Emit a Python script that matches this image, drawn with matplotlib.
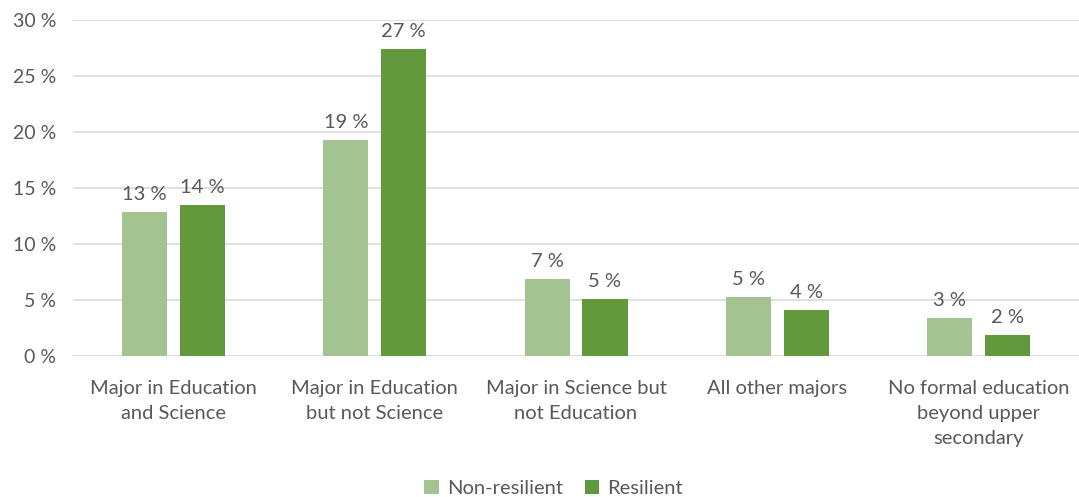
import numpy as np
import matplotlib.pyplot as plt

categories = ["Major in Education\nand Science", "Major in Education\nbut not Science",
              "Major in Science but\nnot Education", "All other majors",
              "No formal education\nbeyond upper\nsecondary"]
non_resilient = [12.9, 19.3, 6.9, 5.3, 3.4]
resilient = [13.5, 27.4, 5.1, 4.1, 1.9]
yticks = [0, 5, 10, 15, 20, 25, 30]

plt.rcParams['font.family'] = ['Lato', 'DejaVu Sans']
txt = '#595959'

fig = plt.figure(figsize=(10.79, 4.97), dpi=100)
ax = fig.add_axes([0.0677, 0.2837, 0.9323, 0.6761])

x = np.arange(len(categories))
w = 0.224
off = 0.144
b1 = ax.bar(x - off, non_resilient, w, color='#a3c490', label='Non-resilient', zorder=3)
b2 = ax.bar(x + off, resilient, w, color='#63993d', label='Resilient', zorder=3)

for bars, vals in [(b1, non_resilient), (b2, resilient)]:
    for b, v in zip(bars, vals):
        ax.text(b.get_x() + b.get_width() / 2, v + 0.8, f"{v:.0f} %", ha='center', va='bottom',
                fontsize=14.5, color=txt)

ax.set_xlim(-0.5, len(categories) - 0.5)
ax.set_ylim(0, 30)
ax.set_yticks(yticks)
ax.set_yticklabels([f"{t} %" for t in yticks], fontsize=14, color=txt)
ax.set_xticks(x)
ax.set_xticklabels(categories, fontsize=14.5, color=txt, linespacing=1.6)
ax.tick_params(length=0)
ax.tick_params(axis='x', pad=17)
ax.tick_params(axis='y', pad=12)
ax.grid(axis='y', color='#d9d9d9', linewidth=1.2, zorder=0)
for s in ax.spines.values():
    s.set_visible(False)

fig.legend(loc='lower center', bbox_to_anchor=(0.513, -0.036), ncol=2, frameon=False,
           fontsize=14.5, handlelength=0.7, handleheight=0.7, handletextpad=0.4,
           columnspacing=1.1, labelcolor=txt)

fig.savefig('out.png', dpi=100)
